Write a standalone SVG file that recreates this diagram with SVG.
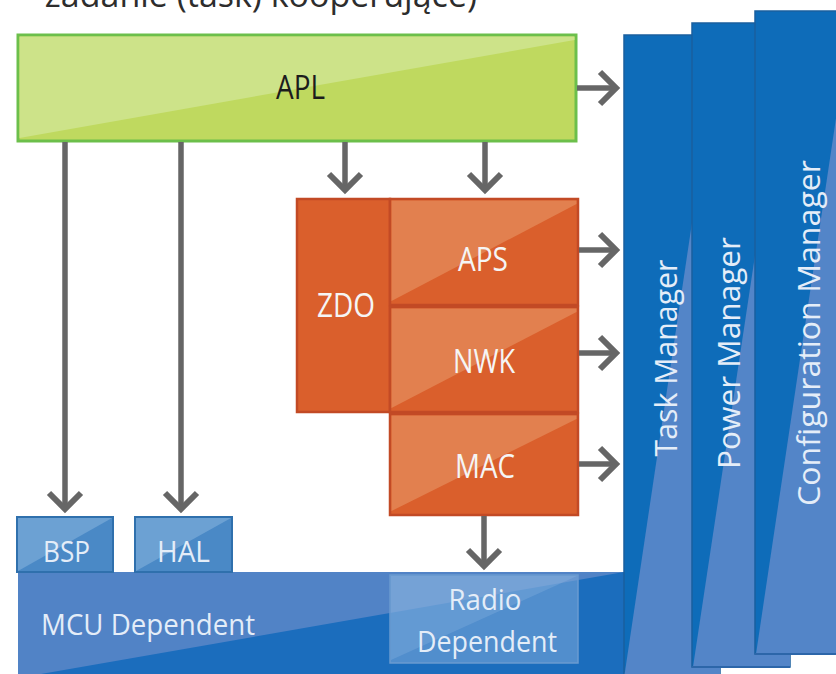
<svg xmlns="http://www.w3.org/2000/svg" width="836" height="674" viewBox="0 0 836 674">
  <defs>
    <style>
      .lbl { font-family: "Open Sans", "Noto Sans", "DejaVu Sans", sans-serif; text-anchor: middle; }
      .white { fill: #f5f5f5; }
      .pale { fill: #e4edf8; }
      .orange { fill: #da5f2c; stroke: #c24a25; stroke-width: 2.5; }
      .orange-hi { fill: #e2804f; }
      .small { fill: #4a89c6; stroke: #2f70ad; stroke-width: 2; }
      .small-hi { fill: #6ca1d3; }
      .panel { fill: #0e6cb9; stroke: #1a5f9e; stroke-width: 1.5; }
      .panel-hi { fill: #5385c8; }
      .conn line { stroke: #666666; stroke-width: 5.5; fill: none; marker-end: url(#chev); }
    </style>
    <marker id="chev" markerUnits="userSpaceOnUse" orient="auto" refX="0" refY="0"
            markerWidth="60" markerHeight="60" viewBox="-30 -30 60 60" overflow="visible">
      <path d="M-16,-16 L0,0 L-16,16" fill="none" stroke="#666666" stroke-width="6" stroke-linejoin="miter"/>
    </marker>
  </defs>

  <rect width="836" height="674" fill="#ffffff"/>

  <!-- heading, running off the top edge -->
  <g id="title">
    <text x="477" y="7" font-family="Open Sans, Noto Sans, sans-serif" font-size="34" fill="#2d2d2d" text-anchor="end">zadanie (task) kooperujące)</text>
  </g>

  <!-- MCU dependent base bar -->
  <g id="mcu">
    <rect x="18" y="572" width="606" height="110" fill="#5183c6"/>
    <polygon points="624,572 624,682 18,682 18,676 41,674" fill="#1b6dbd"/>
    <text class="lbl pale" x="41" y="635" font-size="30" text-anchor="start" style="text-anchor:start" textLength="214" lengthAdjust="spacingAndGlyphs">MCU Dependent</text>
  </g>

  <!-- radio dependent block -->
  <g id="radio">
    <rect x="390" y="575" width="188" height="88" fill="#7eaadb" fill-opacity="0.55" stroke="#6a9ad0" stroke-width="1.5"/>
    <polygon points="391,576 577,576 391,660" fill="#9cc0e6" fill-opacity="0.25"/>
    <text class="lbl pale" x="485" y="610" font-size="30" textLength="73" lengthAdjust="spacingAndGlyphs">Radio</text>
    <text class="lbl pale" x="487" y="652" font-size="30" textLength="140" lengthAdjust="spacingAndGlyphs">Dependent</text>
  </g>

  <!-- BSP -->
  <g id="bsp">
    <rect class="small" x="17" y="517" width="96" height="55"/>
    <polygon class="small-hi" points="18,518 112,518 18,571"/>
    <text class="lbl pale" x="66.5" y="562" font-size="29" textLength="47" lengthAdjust="spacingAndGlyphs">BSP</text>
  </g>

  <!-- HAL -->
  <g id="hal">
    <rect class="small" x="135" y="517" width="97" height="55"/>
    <polygon class="small-hi" points="136,518 231,518 136,571"/>
    <text class="lbl pale" x="183.5" y="562" font-size="29" textLength="53" lengthAdjust="spacingAndGlyphs">HAL</text>
  </g>

  <!-- ZigBee stack blocks -->
  <g id="zdo">
    <rect class="orange" x="297" y="199" width="93" height="213"/>
    <text class="lbl white" x="346" y="317" font-size="33" textLength="58" lengthAdjust="spacingAndGlyphs">ZDO</text>
  </g>
  <g id="aps">
    <rect class="orange" x="390" y="199" width="188" height="106"/>
    <polygon class="orange-hi" points="391.5,200.5 576.5,200.5 576.5,204 391.5,301"/>
    <text class="lbl white" x="483" y="271" font-size="33" textLength="50" lengthAdjust="spacingAndGlyphs">APS</text>
  </g>
  <g id="nwk">
    <rect class="orange" x="390" y="307" width="188" height="105"/>
    <polygon class="orange-hi" points="391.5,308.5 576.5,308.5 576.5,312 391.5,408"/>
    <text class="lbl white" x="484" y="373" font-size="33" textLength="62" lengthAdjust="spacingAndGlyphs">NWK</text>
  </g>
  <g id="mac">
    <rect class="orange" x="390" y="414" width="188" height="101"/>
    <polygon class="orange-hi" points="391.5,415.5 576.5,415.5 576.5,419 391.5,511"/>
    <text class="lbl white" x="485" y="478" font-size="33" textLength="60" lengthAdjust="spacingAndGlyphs">MAC</text>
  </g>

  <!-- application layer -->
  <g id="apl">
    <rect x="18" y="35" width="558" height="106" fill="#bfd95f" stroke="#6cbf4b" stroke-width="3"/>
    <polygon points="19.5,36.5 574.5,36.5 574.5,40 19.5,138" fill="#cde389"/>
    <text class="lbl" x="300.5" y="99" font-size="32" fill="#1c1c1c" textLength="49" lengthAdjust="spacingAndGlyphs">APL</text>
  </g>

  <!-- connectors -->
  <g id="connectors" class="conn">
    <line x1="577" y1="88" x2="616" y2="88"/>
    <line x1="65" y1="142" x2="65" y2="509"/>
    <line x1="181" y1="142" x2="181" y2="509"/>
    <line x1="345" y1="142" x2="345" y2="190"/>
    <line x1="485" y1="142" x2="485" y2="190"/>
    <line x1="579" y1="250" x2="616" y2="250"/>
    <line x1="579" y1="353" x2="616" y2="353"/>
    <line x1="579" y1="464" x2="616" y2="464"/>
    <line x1="484" y1="516" x2="484" y2="566"/>
  </g>

  <!-- system service panels -->
  <g id="task-manager">
    <rect class="panel" x="624" y="35" width="96" height="660"/>
    <polygon class="panel-hi" points="720,35 720,695 621.5,695"/>
    <text class="lbl pale" transform="translate(677,358) rotate(-90)" font-size="31" textLength="197" lengthAdjust="spacingAndGlyphs">Task Manager</text>
  </g>
  <g id="power-manager">
    <rect class="panel" x="692" y="23" width="98" height="644"/>
    <polygon class="panel-hi" points="790,23 790,667 693,667"/>
    <line x1="692" y1="667" x2="790" y2="667" stroke="#2c66a9" stroke-width="2"/>
    <text class="lbl pale" transform="translate(740,353) rotate(-90)" font-size="31" textLength="232" lengthAdjust="spacingAndGlyphs">Power Manager</text>
  </g>
  <g id="configuration-manager">
    <rect class="panel" x="755" y="11" width="97" height="643"/>
    <polygon class="panel-hi" points="852,11 852,654 756,654"/>
    <line x1="755" y1="654" x2="852" y2="654" stroke="#2c66a9" stroke-width="2"/>
    <text class="lbl pale" transform="translate(820,333) rotate(-90)" font-size="31" textLength="346" lengthAdjust="spacingAndGlyphs">Configuration Manager</text>
  </g>
</svg>
